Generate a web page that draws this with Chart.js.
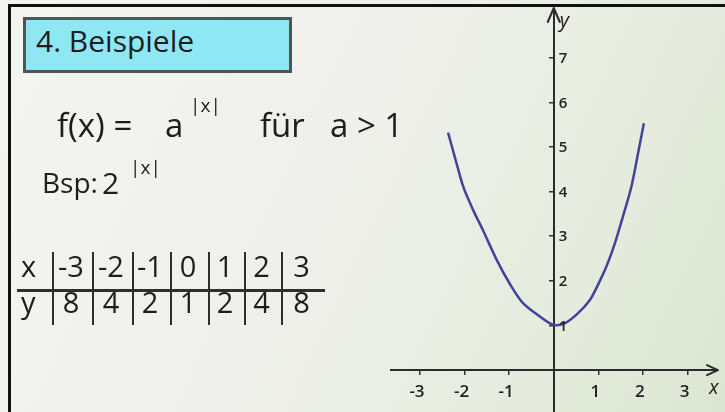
<!DOCTYPE html>
<html>
<head>
<meta charset="utf-8">
<script src="https://cdn.jsdelivr.net/npm/chart.js@4"></script>
<style>
  body { margin: 0; overflow: hidden; background: #fff; }
  #board {
    position: relative; width: 725px; height: 412px; overflow: hidden;
    background: linear-gradient(115deg, #f4f4f1 0%, #eff0eb 45%, #e4ebdc 80%, #dbe6d2 100%);
    font-family: "Open Sans", sans-serif; color: #1d1d1d;
  }
  #graph { position: absolute; left: 0; top: 0; z-index: 1; }
  .t { position: absolute; line-height: 1; white-space: pre; z-index: 2; }
  .ln { position: absolute; background: #2e2e2e; z-index: 2; }
  #frameTop { position: absolute; left: 8px; top: 4px; width: 717px; height: 3px; background: #111; z-index: 3; }
  #frameLeft { position: absolute; left: 8px; top: 4px; width: 3px; height: 408px; background: #111; z-index: 3; }
  #titleBox {
    position: absolute; left: 23px; top: 17px; width: 263px; height: 50px;
    background: #8ee7f3; border: 3px solid #4e5556; z-index: 2;
  }
</style>
</head>
<body>
<div id="board">
  <canvas id="graph" width="725" height="412"></canvas>
  <div id="frameTop"></div>
  <div id="frameLeft"></div>
  <div id="titleBox"></div>
  <div class="t" style="left:36px; top:26px; font-size:30px;">4. Beispiele</div>

  <div class="t" style="left:57px; top:108px; font-size:33px;">f(x) =</div>
  <div class="t" style="left:165px; top:108px; font-size:33px;">a</div>
  <div class="t" style="left:190px; top:96px; font-size:19px;">|x|</div>
  <div class="t" style="left:260px; top:108px; font-size:33px;">für</div>
  <div class="t" style="left:330px; top:108px; font-size:33px;">a &gt; 1</div>

  <div class="t" style="left:42px; top:168px; font-size:28px;">Bsp:</div>
  <div class="t" style="left:102px; top:168px; font-size:30px;">2</div>
  <div class="t" style="left:130px; top:158px; font-size:19px;">|x|</div>

  <div id="table"></div>
</div>

<script>
// hand drawn curve (x, y)
var curveX = [-2.37, -2.22, -2.03, -1.81, -1.59, -1.28, -0.99, -0.69, -0.31, 0, 0.25, 0.54, 0.81, 0.99, 1.18, 1.37, 1.55, 1.74, 1.89, 2.02];
var curveY = [5.32, 4.78, 4.11, 3.59, 3.14, 2.47, 1.94, 1.50, 1.20, 1.01, 1.05, 1.27, 1.57, 1.91, 2.32, 2.84, 3.44, 4.11, 4.86, 5.53];

var xTicks = [-3, -2, -1, 1, 2, 3];
var yTicks = [1, 2, 3, 4, 5, 6, 7];

// value table on the left
var tableX = ["-3", "-2", "-1", "0", "1", "2", "3"];
var tableY = ["8", "4", "2", "1", "2", "4", "8"];

// table layout (pixels)
var colLines = [53, 93, 133, 171, 209, 245, 282, 325];

function buildTable() {
  var tb = document.getElementById("table");
  var html = '';
  html += '<div class="ln" style="left:17px; top:289px; width:308px; height:2.5px;"></div>';
  for (var i = 0; i < colLines.length - 1; i++) {
    html += '<div class="ln" style="left:' + (colLines[i] - 1) + 'px; top:252px; width:2px; height:73px;"></div>';
  }
  html += '<div class="t" style="left:21px; top:251px; font-size:29px;">x</div>';
  html += '<div class="t" style="left:21px; top:287px; font-size:29px;">y</div>';
  for (var j = 0; j < tableX.length; j++) {
    var cx = (colLines[j] + colLines[j + 1]) / 2 - 2;
    html += '<div class="t" style="left:' + (cx - 20) + 'px; width:40px; text-align:center; top:251px; font-size:29px;">' + tableX[j] + '</div>';
    html += '<div class="t" style="left:' + (cx - 20) + 'px; width:40px; text-align:center; top:287px; font-size:29px;">' + tableY[j] + '</div>';
  }
  tb.innerHTML = html;
}
buildTable();

var points = [];
for (var k = 0; k < curveX.length; k++) {
  points.push({x: curveX[k], y: curveY[k]});
}

var boardDecor = {
  id: 'boardDecor',
  afterDraw: function(chart) {
    var c = chart.ctx, xs = chart.scales.x, ys = chart.scales.y, area = chart.chartArea;
    var ox = xs.getPixelForValue(0), oy = ys.getPixelForValue(0);
    c.save();
    c.strokeStyle = '#2b2b2b';
    c.lineWidth = 2;
    c.lineCap = 'round';
    c.lineJoin = 'round';
    // arrow heads
    c.beginPath();
    c.moveTo(ox - 6, area.top + 12); c.lineTo(ox, area.top - 2); c.lineTo(ox + 6, area.top + 12);
    c.moveTo(area.right - 10, oy - 5); c.lineTo(area.right + 1, oy); c.lineTo(area.right - 10, oy + 5);
    c.stroke();
    // tick labels
    c.fillStyle = '#222';
    c.font = '600 17px "Open Sans"';
    c.textAlign = 'center';
    c.textBaseline = 'middle';
    xTicks.forEach(function(v) {
      c.fillText(String(v), xs.getPixelForValue(v) - 3, oy + 22);
    });
    c.textAlign = 'left';
    c.font = '600 15px "Open Sans"';
    yTicks.forEach(function(v) {
      c.fillText(String(v), ox + 5, ys.getPixelForValue(v) + 1);
    });
    // axis names
    c.font = 'italic 20px "Open Sans"';
    c.fillText('y', ox + 6, area.top + 11);
    c.fillText('x', area.right - 8, oy + 18);
    c.restore();
  }
};

var ctx = document.getElementById("graph");
var myChart = new Chart(ctx, {
  type: 'line',
  data: {
    datasets: [{
      data: points,
      borderColor: '#43439a',
      borderWidth: 2.5,
      pointRadius: 0,
      tension: 0.3,
      fill: false
    }]
  },
  options: {
    responsive: false,
    animation: false,
    layout: { padding: { left: 391, right: 8, top: 10, bottom: 0 } },
    plugins: { legend: { display: false }, tooltip: { enabled: false } },
    scales: {
      x: {
        type: 'linear',
        min: -3.65,
        max: 3.66,
        position: { y: 0 },
        afterBuildTicks: function(axis) {
          axis.ticks = xTicks.map(function(v) { return {value: v}; });
        },
        grid: { drawOnChartArea: false, tickLength: 4, color: '#333', lineWidth: 1.5 },
        border: { color: '#2b2b2b', width: 2 },
        ticks: { display: false }
      },
      y: {
        type: 'linear',
        min: -0.94,
        max: 8.07,
        position: { x: 0 },
        afterBuildTicks: function(axis) {
          axis.ticks = yTicks.map(function(v) { return {value: v}; });
        },
        grid: { drawOnChartArea: false, tickLength: 4, color: '#333', lineWidth: 1.5 },
        border: { color: '#2b2b2b', width: 2 },
        ticks: { display: false }
      }
    }
  },
  plugins: [boardDecor]
});
</script>
</body>
</html>
